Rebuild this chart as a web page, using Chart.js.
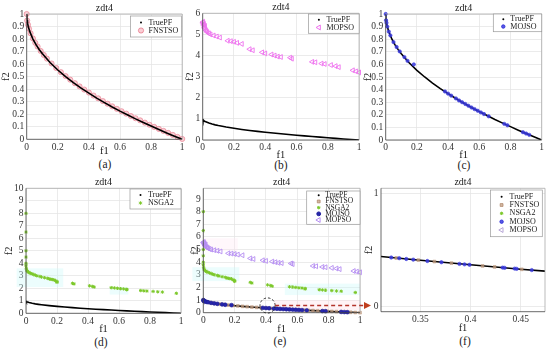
<!DOCTYPE html>
<html>
<head>
<meta charset="utf-8">
<script src="https://cdn.jsdelivr.net/npm/chart.js@4.4.1/dist/chart.umd.min.js"></script>
<style>
html, body { margin: 0; padding: 0; background: #fff; }
#fig { position: relative; width: 550px; height: 350px; overflow: hidden; font-family: 'Liberation Serif', 'Times New Roman', 'DejaVu Serif', serif; }
#fig canvas { position: absolute; }
.cap { position: absolute; font-size: 11.5px; color: #222; transform: translate(-50%, -50%); white-space: nowrap; }
</style>
</head>
<body>
<div id="fig"></div>
<script>
// ---- tick labels ----
const ticksUnit = [0, 0.2, 0.4, 0.6, 0.8, 1];
const ticksTenth = [0, 0.1, 0.2, 0.3, 0.4, 0.5, 0.6, 0.7, 0.8, 0.9, 1];
const ticksSix = [0, 1, 2, 3, 4, 5, 6];
const ticksTen = [0, 1, 2, 3, 4, 5, 6, 7, 8, 9, 10];
const ticksNine = [0, 1, 2, 3, 4, 5, 6, 7, 8, 9];
const ticksZoomX = [0.35, 0.4, 0.45];
const ticksZoomY = [0, 1];

// ---- series ----
const truePfF1 = [0, 0.001, 0.002, 0.005, 0.01, 0.02, 0.04, 0.06, 0.08, 0.1, 0.15, 0.2, 0.25, 0.3, 0.35, 0.4, 0.45, 0.5, 0.55, 0.6, 0.65, 0.7, 0.75, 0.8, 0.85, 0.9, 0.95, 1];
const truePfF2 = [1, 0.968, 0.955, 0.929, 0.9, 0.859, 0.8, 0.755, 0.717, 0.684, 0.613, 0.553, 0.5, 0.452, 0.408, 0.368, 0.329, 0.293, 0.258, 0.225, 0.194, 0.163, 0.134, 0.106, 0.078, 0.051, 0.025, 0];

const fnstsoF1 = [0, 0.003, 0.008, 0.015, 0.025, 0.04, 0.055, 0.07, 0.09, 0.11, 0.13, 0.16, 0.19, 0.22, 0.25, 0.28, 0.31, 0.34, 0.37, 0.4, 0.43, 0.46, 0.49, 0.52, 0.55, 0.58, 0.61, 0.64, 0.67, 0.7, 0.73, 0.76, 0.79, 0.82, 0.85, 0.88, 0.91, 0.94, 0.97, 1];
const fnstsoF2 = [1, 0.948, 0.915, 0.882, 0.846, 0.805, 0.77, 0.74, 0.705, 0.673, 0.644, 0.605, 0.569, 0.536, 0.505, 0.476, 0.448, 0.422, 0.397, 0.373, 0.349, 0.327, 0.305, 0.284, 0.263, 0.243, 0.224, 0.205, 0.186, 0.168, 0.151, 0.133, 0.116, 0.099, 0.083, 0.067, 0.051, 0.035, 0.019, 0.003];

const mojsoF1 = [0, 0.002, 0.005, 0.01, 0.02, 0.03, 0.05, 0.07, 0.09, 0.12, 0.14, 0.18, 0.38, 0.4, 0.42, 0.45, 0.47, 0.49, 0.51, 0.53, 0.55, 0.57, 0.59, 0.61, 0.63, 0.66, 0.76, 0.78, 0.88, 0.9, 0.92];
const mojsoF2 = [1, 0.95, 0.93, 0.9, 0.86, 0.83, 0.777, 0.738, 0.703, 0.658, 0.628, 0.6, 0.385, 0.368, 0.352, 0.33, 0.314, 0.3, 0.286, 0.272, 0.258, 0.245, 0.232, 0.219, 0.206, 0.188, 0.128, 0.117, 0.062, 0.051, 0.041];

const mopsoF1 = [0, 0.003, 0.005, 0.008, 0.01, 0.012, 0.015, 0.02, 0.025, 0.03, 0.04, 0.05, 0.07, 0.09, 0.11, 0.16, 0.18, 0.2, 0.22, 0.25, 0.3, 0.32, 0.38, 0.4, 0.44, 0.46, 0.48, 0.5, 0.56, 0.57, 0.7, 0.72, 0.76, 0.78, 0.82, 0.85, 0.87, 0.96, 0.98, 1];
const mopsoF2 = [5.55, 5.6, 5.45, 5.5, 5.35, 5.3, 5.4, 5.2, 5.15, 5.1, 5.05, 5.0, 4.95, 4.9, 4.85, 4.7, 4.68, 4.65, 4.6, 4.55, 4.3, 4.25, 4.15, 4.1, 4.05, 4.0, 3.95, 3.93, 3.9, 3.85, 3.7, 3.68, 3.62, 3.6, 3.55, 3.5, 3.45, 3.3, 3.25, 3.2];

const nsgaF1 = [0, 0, 0, 0, 0, 0, 0.002, 0.005, 0.01, 0.015, 0.02, 0.03, 0.04, 0.05, 0.06, 0.07, 0.09, 0.1, 0.12, 0.14, 0.15, 0.16, 0.17, 0.18, 0.19, 0.2, 0.2, 0.3, 0.31, 0.41, 0.43, 0.44, 0.55, 0.57, 0.59, 0.61, 0.63, 0.65, 0.65, 0.74, 0.76, 0.78, 0.82, 0.85, 0.88, 0.97];
const nsgaF2 = [8.0, 6.5, 5.0, 4.5, 4.0, 3.8, 3.6, 3.45, 3.35, 3.3, 3.25, 3.2, 3.15, 3.1, 3.05, 3.0, 2.95, 2.9, 2.85, 2.8, 2.75, 2.72, 2.7, 2.68, 2.6, 2.55, 2.48, 2.4, 2.35, 2.2, 2.15, 2.1, 2.05, 2.03, 2.0, 1.97, 1.95, 1.92, 1.88, 1.82, 1.8, 1.78, 1.75, 1.72, 1.7, 1.6];

// zoomed view (f)
const zoomMojsoF1 = [0.321, 0.329, 0.336, 0.343, 0.357, 0.371, 0.389, 0.394, 0.399, 0.432, 0.434, 0.444, 0.446, 0.461];
const zoomMojsoF2 = [0.433, 0.427, 0.42, 0.414, 0.402, 0.391, 0.376, 0.372, 0.368, 0.343, 0.341, 0.334, 0.332, 0.321];
const zoomFnstsoF1 = [0.326, 0.348, 0.364, 0.381, 0.412, 0.424, 0.451];
const zoomFnstsoF2 = [0.429, 0.41, 0.397, 0.383, 0.358, 0.349, 0.328];

// faint highlight bands behind clusters (data coords)
const shadesD = [
    { x0: -0.06, x1: 0.24, y0: 2.1, y1: 3.6, color: 'rgba(200,248,248,0.35)' },
    { x0: 0.54, x1: 0.66, y0: 1.5, y1: 2.1, color: 'rgba(200,248,248,0.35)' }
];
const shadesE = [
    { x0: -0.07, x1: 0.23, y0: 2.5, y1: 3.6, color: 'rgba(200,248,248,0.35)' },
    { x0: 0.52, x1: 1.0, y0: 1.4, y1: 2.3, color: 'rgba(200,248,248,0.35)' },
    { x0: 0.0, x1: 0.22, y0: 4.9, y1: 5.9, color: 'rgba(255,228,242,0.3)' },
    { x0: 0.45, x1: 1.0, y0: 0.2, y1: 1.0, color: 'rgba(255,222,228,0.35)' }
];

const FONT = "'Liberation Serif', 'Times New Roman', 'DejaVu Serif', serif";
const fig = document.getElementById('fig');

function pares(f1, f2) {
    return f1.map((v, i) => ({ x: v, y: f2[i] }));
}

function serieTruePF(order) {
    return {
        label: 'TruePF', data: pares(truePfF1, truePfF2), showLine: true,
        borderColor: '#000', backgroundColor: '#000', borderWidth: 1.6,
        pointRadius: 0, legendRadius: 1, pointStyle: 'circle', clip: 0, order
    };
}

const decorPlugin = {
    id: 'decor',
    beforeDatasetsDraw(chart, args, opts) {
        const { ctx, scales: { x, y } } = chart;
        ctx.save();
        for (const s of (opts.shades || [])) {
            const x0 = x.getPixelForValue(s.x0), x1 = x.getPixelForValue(s.x1);
            const y0 = y.getPixelForValue(s.y0), y1 = y.getPixelForValue(s.y1);
            ctx.fillStyle = s.color;
            ctx.fillRect(Math.min(x0, x1), Math.min(y0, y1), Math.abs(x1 - x0), Math.abs(y1 - y0));
        }
        ctx.restore();
    },
    afterDraw(chart, args, opts) {
        const { ctx, chartArea: a, scales: { x, y } } = chart;
        ctx.save();

        // moldura
        ctx.lineWidth = 0.8;
        ctx.strokeStyle = '#aaa';
        ctx.beginPath();
        ctx.moveTo(a.left, a.top); ctx.lineTo(a.right, a.top); ctx.lineTo(a.right, a.bottom);
        ctx.stroke();
        ctx.strokeStyle = '#444';
        ctx.beginPath();
        ctx.moveTo(a.left, a.top); ctx.lineTo(a.left, a.bottom); ctx.lineTo(a.right, a.bottom);
        ctx.stroke();

        // titulo
        ctx.fillStyle = '#222';
        ctx.font = `10px ${FONT}`;
        ctx.textAlign = 'center';
        ctx.textBaseline = 'middle';
        ctx.fillText('zdt4', (a.left + a.right) / 2, a.top - 6);

        // destaque com seta (painel e)
        if (opts.callout) {
            const c = opts.callout;
            const cx = x.getPixelForValue(c.x), cy = y.getPixelForValue(c.y);
            ctx.setLineDash([2.5, 2]);
            ctx.strokeStyle = '#222';
            ctx.lineWidth = 0.9;
            ctx.beginPath();
            ctx.arc(cx, cy, c.r, 0, Math.PI * 2);
            ctx.stroke();
            const x0 = cx + c.r, x1 = chart.width - 2;
            ctx.setLineDash([4, 3]);
            ctx.strokeStyle = '#b3342b';
            ctx.lineWidth = 1.4;
            ctx.beginPath();
            ctx.moveTo(x0, cy); ctx.lineTo(x1 - 6, cy);
            ctx.stroke();
            ctx.setLineDash([]);
            ctx.fillStyle = '#c0401f';
            ctx.beginPath();
            ctx.moveTo(x1, cy); ctx.lineTo(x1 - 7, cy - 3.5); ctx.lineTo(x1 - 7, cy + 3.5);
            ctx.closePath();
            ctx.fill();
        }

        // legenda
        const lg = opts.legend;
        if (lg) {
            const bx = a.right - lg.dx - lg.w, by = a.top + lg.dy;
            ctx.fillStyle = '#fff';
            ctx.fillRect(bx, by, lg.w, lg.h);
            ctx.strokeStyle = '#9a9a9a';
            ctx.lineWidth = 0.7;
            ctx.strokeRect(bx, by, lg.w, lg.h);
            const itens = chart.data.datasets;
            const row = (lg.h - 2 * lg.pad) / itens.length;
            itens.forEach((ds, i) => {
                const cy = by + lg.pad + row * (i + 0.5);
                ctx.fillStyle = ds.backgroundColor;
                ctx.strokeStyle = ds.borderColor;
                ctx.lineWidth = 1;
                Chart.helpers.drawPoint(ctx, {
                    pointStyle: ds.pointStyle,
                    radius: ds.legendRadius ?? ds.pointRadius,
                    rotation: ds.pointRotation || 0,
                    borderWidth: ds.label === 'TruePF' ? 0 : 1
                }, bx + lg.mx, cy);
                ctx.fillStyle = '#222';
                ctx.font = `${lg.font}px ${FONT}`;
                ctx.textAlign = 'left';
                ctx.textBaseline = 'middle';
                ctx.fillText(ds.label, bx + lg.tx, cy);
            });
        }
        ctx.restore();
    }
};

function fmt(v) {
    return String(Number(v.toFixed(4)));
}

function eixo(min, max, ticks, titulo, tamanho, horizontal) {
    return {
        type: 'linear',
        min, max,
        afterBuildTicks: (s) => { s.ticks = ticks.map((v) => ({ value: v })); },
        afterFit: (s) => {
            if (horizontal) {
                s.height = tamanho;
            } else {
                s.width = tamanho;
            }
        },
        grid: { color: '#e6e6e6', lineWidth: 0.8, drawTicks: false },
        border: { display: false },
        ticks: {
            font: { family: FONT, size: 9.5 }, color: '#333', padding: horizontal ? 2 : 2.5,
            autoSkip: false, maxRotation: 0, callback: (v) => fmt(v)
        },
        title: { display: true, text: titulo, font: { family: FONT, size: 10.5 }, color: '#222', padding: 0 }
    };
}

function criarPainel(p) {
    const W = p.yDist + 6, H = p.xDist + 6;
    const [aL, aT, aR, aB] = p.area;
    const left = Math.floor(aL - W);
    const top = p.top;
    const width = Math.ceil(aR + p.padR - left);
    const height = Math.ceil(aB + H - top);

    const canvas = document.createElement('canvas');
    canvas.width = width;
    canvas.height = height;
    canvas.style.left = left + 'px';
    canvas.style.top = top + 'px';
    canvas.style.width = width + 'px';
    canvas.style.height = height + 'px';
    canvas.style.zIndex = p.z || 1;
    fig.appendChild(canvas);

    new Chart(canvas, {
        type: 'scatter',
        data: { datasets: p.datasets },
        options: {
            responsive: false,
            animation: false,
            devicePixelRatio: 1,
            layout: {
                padding: {
                    left: aL - W - left,
                    top: aT - top,
                    right: width - (aR - left),
                    bottom: height - (aB - top) - H
                }
            },
            plugins: {
                legend: { display: false },
                tooltip: { enabled: false },
                decor: { legend: p.legend, shades: p.shades, callout: p.callout }
            },
            scales: {
                x: eixo(p.x[0], p.x[1], p.xTicks, 'f1', H, true),
                y: eixo(p.y[0], p.y[1], p.yTicks, 'f2', W, false)
            }
        },
        plugins: [decorPlugin]
    });

    const cap = document.createElement('div');
    cap.className = 'cap';
    cap.textContent = p.caption;
    cap.style.left = p.capPos[0] + 'px';
    cap.style.top = p.capPos[1] + 'px';
    fig.appendChild(cap);
}

const estiloFnstsoA = { pointStyle: 'circle', pointRadius: 2.6, backgroundColor: 'rgba(245,165,178,0.55)', borderColor: 'rgba(225,90,112,0.6)', borderWidth: 0.8 };
const estiloFnstsoE = { pointStyle: 'rect', pointRadius: 2, backgroundColor: 'rgba(196,160,132,0.75)', borderColor: 'rgba(175,135,105,0.75)', borderWidth: 0.6 };
const estiloNsga = { pointStyle: 'star', pointRadius: 1.7, backgroundColor: '#8ad238', borderColor: '#7cc82a', borderWidth: 1 };
const estiloMojsoC = { pointStyle: 'circle', pointRadius: 1.7, backgroundColor: 'rgba(60,60,225,0.85)', borderColor: 'rgba(45,45,215,0.9)', borderWidth: 0.6 };
const estiloMojsoE = { pointStyle: 'circle', pointRadius: 1.9, backgroundColor: '#2626aa', borderColor: '#1e1e9c', borderWidth: 0.6 };
const estiloMopsoB = { pointStyle: 'triangle', pointRotation: -90, pointRadius: 2.8, backgroundColor: 'rgba(0,0,0,0)', borderColor: '#ee70ee', borderWidth: 0.9 };
const estiloMopsoE = { pointStyle: 'triangle', pointRotation: -90, pointRadius: 2.8, backgroundColor: 'rgba(0,0,0,0)', borderColor: '#b48cf2', borderWidth: 0.9 };

const painels = [
    {
        caption: '(a)', capPos: [105, 164], top: 0,
        area: [26.7, 14, 182.7, 139.3], yDist: 20.7, xDist: 12.4, padR: 4,
        x: [0, 1], y: [0, 1], xTicks: ticksUnit, yTicks: ticksTenth,
        legend: { dx: 0.7, dy: 2, w: 51, h: 21, pad: 2.5, mx: 10.5, tx: 18, font: 8 },
        datasets: [
            serieTruePF(1),
            { label: 'FNSTSO', data: pares(fnstsoF1, fnstsoF2), ...estiloFnstsoA, clip: 4, order: 2 }
        ]
    },
    {
        caption: '(b)', capPos: [281, 165], top: 0,
        area: [202.7, 13.3, 360, 140], yDist: 12.7, xDist: 15.7, padR: 4,
        x: [0, 1], y: [0, 6], xTicks: ticksUnit, yTicks: ticksSix,
        legend: { dx: 0, dy: 0.7, w: 50.7, h: 19.3, pad: 2, mx: 10.5, tx: 18, font: 8 },
        datasets: [
            serieTruePF(1),
            { label: 'MOPSO', data: pares(mopsoF1, mopsoF2), ...estiloMopsoB, clip: 4, order: 2 }
        ]
    },
    {
        caption: '(c)', capPos: [464, 164.5], top: 0,
        area: [385.7, 14, 541.7, 140], yDist: 18, xDist: 16, padR: 5,
        x: [0, 1], y: [0, 1], xTicks: ticksUnit, yTicks: ticksTenth,
        legend: { dx: 0, dy: 0, w: 48.4, h: 17.7, pad: 1.5, mx: 10, tx: 17, font: 8 },
        datasets: [
            serieTruePF(2),
            { label: 'MOJSO', data: pares(mojsoF1, mojsoF2), ...estiloMojsoC, clip: 4, order: 1 }
        ]
    },
    {
        caption: '(d)', capPos: [101, 341.5], top: 175,
        area: [26, 188.3, 182, 313.3], yDist: 17, xDist: 16, padR: 4,
        x: [0, 1], y: [0, 10], xTicks: ticksUnit, yTicks: ticksTen,
        legend: { dx: 0, dy: 0.7, w: 51, h: 20, pad: 2, mx: 10.5, tx: 18, font: 8 },
        shades: shadesD,
        datasets: [
            serieTruePF(2),
            { label: 'NSGA2', data: pares(nsgaF1, nsgaF2), ...estiloNsga, clip: 4, order: 1 }
        ]
    },
    {
        caption: '(e)', capPos: [280, 341], top: 175, z: 3,
        area: [203.3, 188.3, 360, 312.7], yDist: 8, xDist: 17.3, padR: 13,
        x: [0, 1], y: [0, 9.85], xTicks: ticksUnit, yTicks: ticksNine,
        legend: { dx: 0, dy: 2.7, w: 53.3, h: 33.3, pad: 1.2, mx: 12, tx: 18.5, font: 7.5 },
        shades: shadesE,
        callout: { x: 0.41, y: 0.57, r: 7.6 },
        datasets: [
            serieTruePF(5),
            { label: 'FNSTSO', data: pares(fnstsoF1, fnstsoF2), ...estiloFnstsoE, clip: 4, order: 3 },
            { label: 'NSGA2', data: pares(nsgaF1, nsgaF2), ...estiloNsga, clip: 4, order: 2 },
            { label: 'MOJSO', data: pares(mojsoF1, mojsoF2), ...estiloMojsoE, clip: 4, order: 1 },
            { label: 'MOPSO', data: pares(mopsoF1, mopsoF2), ...estiloMopsoE, clip: 4, order: 4 }
        ]
    },
    {
        caption: '(f)', capPos: [465, 340.5], top: 175, z: 2,
        area: [381, 188.3, 547.7, 311.7], yDist: 12, xDist: 17.3, padR: 2,
        x: [0.3108, 0.4742], y: [-0.05, 1.05], xTicks: ticksZoomX, yTicks: ticksZoomY,
        legend: { dx: 2.7, dy: 1.7, w: 51.7, h: 46.7, pad: 2.5, mx: 11, tx: 19, font: 8 },
        datasets: [
            serieTruePF(5),
            { label: 'FNSTSO', data: pares(zoomFnstsoF1, zoomFnstsoF2), ...estiloFnstsoE, clip: 4, order: 3 },
            { label: 'NSGA2', data: pares(nsgaF1, nsgaF2), ...estiloNsga, clip: 0, order: 2 },
            { label: 'MOJSO', data: pares(zoomMojsoF1, zoomMojsoF2), ...estiloMojsoC, clip: 4, order: 1 },
            { label: 'MOPSO', data: pares(mopsoF1, mopsoF2), ...estiloMopsoE, borderColor: '#b7a6d6', clip: 0, order: 4 }
        ]
    }
];

painels.forEach(criarPainel);
</script>
</body>
</html>
